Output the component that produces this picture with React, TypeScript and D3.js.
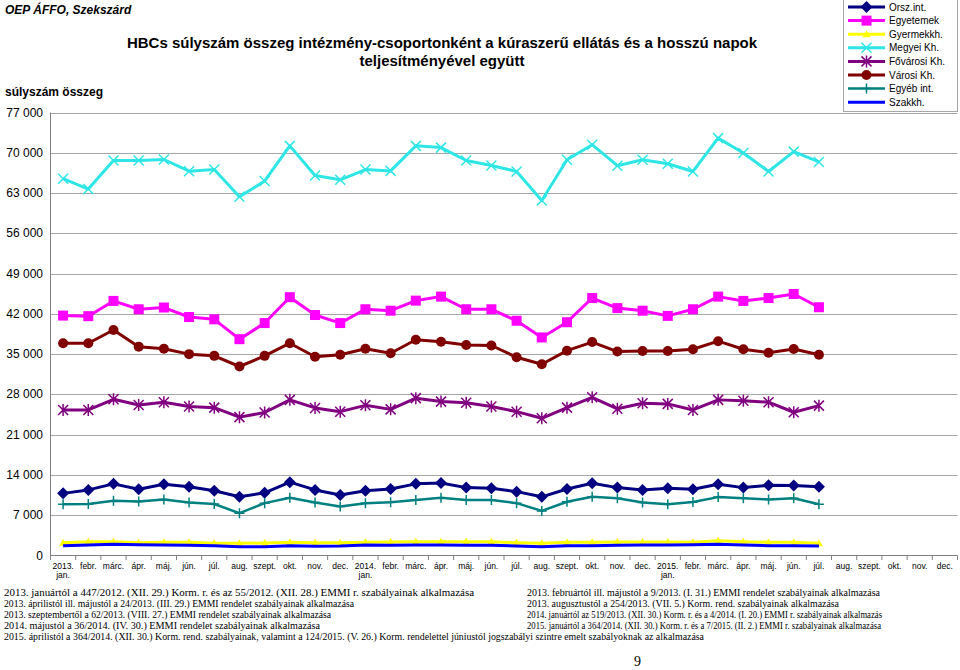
import React from "react";
import * as d3 from "d3";

const monthNames = ["jan.", "febr.", "márc.", "ápr.", "máj.", "jún.", "júl.", "aug.", "szept.", "okt.", "nov.", "dec."];
const years = ["2013.", "2014.", "2015."];
const categories: { year: string; month: string }[] = [];
years.forEach((y) => monthNames.forEach((m, i) => categories.push({ year: i === 0 ? y : "", month: m })));

const yTicks = [0, 7000, 14000, 21000, 28000, 35000, 42000, 49000, 56000, 63000, 70000, 77000];

const orszInt = [10800, 11400, 12450, 11500, 12400, 11950, 11250, 10200, 10900, 12750, 11400, 10500, 11250, 11550, 12450, 12600, 11800, 11700, 11100, 10200, 11550, 12550, 11800, 11400, 11700, 11500, 12400, 11800, 12200, 12150, 11950];
const egyetemek = [41700, 41600, 44250, 42800, 43100, 41450, 41050, 37600, 40400, 44900, 41800, 40400, 42800, 42550, 44300, 45000, 42800, 42800, 40800, 37900, 40550, 44750, 43000, 42550, 41650, 42800, 45000, 44250, 44750, 45450, 43150];
const gyermekkh = [2230, 2400, 2400, 2230, 2300, 2300, 2120, 2120, 2170, 2300, 2230, 2230, 2300, 2350, 2400, 2400, 2400, 2400, 2230, 2120, 2300, 2300, 2350, 2350, 2350, 2300, 2570, 2400, 2300, 2300, 2120];
const megyei = [65500, 63700, 68650, 68650, 68830, 66800, 67090, 62350, 65100, 71200, 66050, 65300, 67090, 66850, 71200, 70900, 68650, 67800, 66750, 61700, 68800, 71400, 67750, 68800, 68100, 66750, 72550, 69950, 66750, 70200, 68400];
const fovarosi = [25300, 25300, 27150, 26150, 26650, 25900, 25700, 24050, 24850, 27050, 25650, 25000, 26100, 25400, 27350, 26750, 26550, 25900, 25000, 23850, 25700, 27500, 25500, 26450, 26350, 25300, 27050, 26900, 26650, 24900, 26050];
const varosi = [36900, 36900, 39200, 36300, 35950, 35000, 34700, 32850, 34700, 36900, 34550, 34900, 35950, 35150, 37500, 37150, 36600, 36500, 34450, 33250, 35600, 37100, 35450, 35550, 35550, 35850, 37250, 35850, 35250, 35900, 34900];
const egyebInt = [8900, 8950, 9530, 9400, 9750, 9200, 8950, 7350, 9100, 10050, 9200, 8500, 9100, 9250, 9650, 10050, 9650, 9650, 9100, 7750, 9350, 10200, 9950, 9200, 8900, 9300, 10150, 9950, 9750, 9950, 8900];
const szakkh = [1700, 1830, 1950, 1880, 1830, 1770, 1700, 1530, 1530, 1700, 1600, 1650, 1830, 1770, 1830, 1830, 1770, 1770, 1650, 1530, 1700, 1700, 1770, 1830, 1830, 1880, 1950, 1830, 1700, 1700, 1650];

const seriesNames = ["Orsz.int.", "Egyetemek", "Gyermekkh.", "Megyei Kh.", "Fővárosi Kh.", "Városi Kh.", "Egyéb int.", "Szakkh."];
const seriesValues = [orszInt, egyetemek, gyermekkh, megyei, fovarosi, varosi, egyebInt, szakkh];
const seriesColors = ["#000080", "#FF00FF", "#FFFF00", "#2EE6E6", "#800080", "#800000", "#008080", "#0000FF"];
const seriesMarkers = ["diamond", "square", "triangle", "x", "asterisk", "circle", "plus", "none"];
const seriesWidths = [3, 3, 3, 3, 3, 3, 2.5, 3];

const notesLeft = [
  "2013. januártól a 447/2012. (XII. 29.) Korm. r. és az 55/2012. (XII. 28.) EMMI r. szabályainak alkalmazása",
  "2013. áprilistól ill. májustól a 24/2013. (III. 29.) EMMI rendelet szabályainak alkalmazása",
  "2013. szeptembertől a 62/2013. (VIII. 27.) EMMI rendelet szabályainak alkalmazása",
  "2014. májustól a 36/2014. (IV. 30.) EMMI rendelet szabályainak alkalmazása",
  "2015. áprilistól a 364/2014. (XII. 30.) Korm. rend. szabályainak, valamint a 124/2015. (V. 26.) Korm. rendelettel júniustól jogszabályi szintre emelt szabályoknak az alkalmazása",
];
const notesRight = [
  "2013. februártól ill. májustól a 9/2013. (I. 31.) EMMI rendelet szabályainak alkalmazása",
  "2013. augusztustól a 254/2013. (VII. 5.) Korm. rend. szabályainak alkalmazása",
  "2014. januártól az 519/2013. (XII. 30.) Korm. r. és a 4/2014. (I. 20.) EMMI r. szabályainak alkalmazás",
  "2015. januártól a 364/2014. (XII. 30.) Korm. r. és a 7/2015. (II. 2.) EMMI r. szabályainak alkalmazása",
];
const notesLeftWidths = [470, 350, 327, 316, 700];
const notesRightWidths = [353, 312, 355, 354];

const SANS = "'Liberation Sans', Arial, sans-serif";
const SERIF = "'Liberation Serif', 'Times New Roman', serif";

function Marker({ type, color }: { type: string; color: string }) {
  switch (type) {
    case "diamond":
      return <path d="M0,-6L6,0L0,6L-6,0Z" fill={color} />;
    case "square":
      return <rect x={-5} y={-5} width={10} height={10} fill={color} />;
    case "triangle":
      return <path d="M0,-4L4,3L-4,3Z" fill={color} />;
    case "x":
      return <path d="M-5,-5L5,5M-5,5L5,-5" stroke={color} strokeWidth={1.5} fill="none" />;
    case "asterisk":
      return <path d="M-5,-5L5,5M-5,5L5,-5M0,-6L0,6" stroke={color} strokeWidth={1.5} fill="none" />;
    case "circle":
      return <circle r={5} fill={color} />;
    case "plus":
      return <path d="M-5,0L5,0M0,-5L0,5" stroke={color} strokeWidth={1.5} fill="none" />;
    default:
      return null;
  }
}

export default function App() {
  const x = d3
    .scaleBand<number>()
    .domain(d3.range(categories.length))
    .range([50.5, 957.5]);
  const y = d3.scaleLinear().domain([0, 77000]).range([555.5, 112.5]);
  const cx = (i: number) => (x(i) as number) + x.bandwidth() / 2;
  const fmt = (v: number) => d3.format(",")(v).replace(/,/g, " ");

  const line = d3
    .line<number>()
    .x((_, i) => cx(i))
    .y((d) => y(d));

  const legendX = 843;
  const legendRowY = (i: number) => 7 + i * 13.6;

  return (
    <svg
      width={960}
      height={670}
      style={{ position: "absolute", left: 0, top: 0, background: "#fff" }}
      fontFamily={SANS}
    >
      <rect x={0} y={0} width={960} height={670} fill="#fff" />
      <text x={5} y={14} fontSize={12} fontWeight="bold" fontStyle="italic">
        OEP ÁFFO, Szekszárd
      </text>
      <text x={442} y={48} fontSize={15} fontWeight="bold" textAnchor="middle">
        HBCs súlyszám összeg intézmény-csoportonként a kúraszerű ellátás és a hosszú napok
      </text>
      <text x={442} y={66} fontSize={15} fontWeight="bold" textAnchor="middle">
        teljesítményével együtt
      </text>
      <text x={5} y={96} fontSize={12} fontWeight="bold">
        súlyszám összeg
      </text>

      {/* grid */}
      {yTicks.map((t) => (
        <g key={t}>
          {t > 0 && (
            <line x1={50.5} x2={957.5} y1={Math.round(y(t)) + 0.5} y2={Math.round(y(t)) + 0.5} stroke="#A6A6A6" strokeWidth={1} />
          )}
          <text x={43} y={y(t) + 4} fontSize={12} textAnchor="end">
            {fmt(t)}
          </text>
        </g>
      ))}
      {/* axes */}
      <line x1={50.5} x2={50.5} y1={112.5} y2={556} stroke="#808080" strokeWidth={1} />
      <line x1={50.5} x2={957.5} y1={555.5} y2={555.5} stroke="#808080" strokeWidth={1} />
      {d3.range(categories.length + 1).map((i) => {
        const xx = i < categories.length ? (x(i) as number) : 957.5;
        return <line key={i} x1={xx} x2={xx} y1={555.5} y2={560} stroke="#808080" strokeWidth={1} />;
      })}
      {categories.map((c, i) => (
        <g key={i}>
          {c.year ? (
            <>
              <text x={cx(i)} y={569} fontSize={8.5} textAnchor="middle">
                {c.year}
              </text>
              <text x={cx(i)} y={578} fontSize={8.5} textAnchor="middle">
                {c.month}
              </text>
            </>
          ) : (
            <text x={cx(i)} y={569} fontSize={8.5} textAnchor="middle">
              {c.month}
            </text>
          )}
        </g>
      ))}

      {/* series */}
      {seriesValues.map((vals, s) => (
        <g key={s}>
          <path d={line(vals) || ""} fill="none" stroke={seriesColors[s]} strokeWidth={seriesWidths[s]} strokeLinejoin="round" />
          {vals.map((v, i) => (
            <g key={i} transform={`translate(${cx(i)},${y(v)})`}>
              <Marker type={seriesMarkers[s]} color={seriesColors[s]} />
            </g>
          ))}
        </g>
      ))}

      {/* legend */}
      <rect x={legendX + 0.5} y={-0.5} width={114} height={112} fill="#fff" stroke="#A6A6A6" />
      {seriesNames.map((n, i) => (
        <g key={n}>
          <line x1={legendX + 5} x2={legendX + 42} y1={legendRowY(i)} y2={legendRowY(i)} stroke={seriesColors[i]} strokeWidth={seriesWidths[i]} />
          <g transform={`translate(${legendX + 23.5},${legendRowY(i)})`}>
            <Marker type={seriesMarkers[i]} color={seriesColors[i]} />
          </g>
          <text x={legendX + 46} y={legendRowY(i) + 3.5} fontSize={10}>
            {n}
          </text>
        </g>
      ))}

      {/* notes */}
      {notesLeft.map((t, i) => (
        <text key={"l" + i} x={4} y={596 + i * 11} fontSize={10} fontFamily={SERIF} textLength={notesLeftWidths[i]} lengthAdjust="spacingAndGlyphs">
          {t}
        </text>
      ))}
      {notesRight.map((t, i) => (
        <text key={"r" + i} x={527} y={596 + i * 11} fontSize={10} fontFamily={SERIF} textLength={notesRightWidths[i]} lengthAdjust="spacingAndGlyphs">
          {t}
        </text>
      ))}
      <text x={634} y={666} fontSize={14} fontFamily={SERIF}>
        9
      </text>
    </svg>
  );
}
